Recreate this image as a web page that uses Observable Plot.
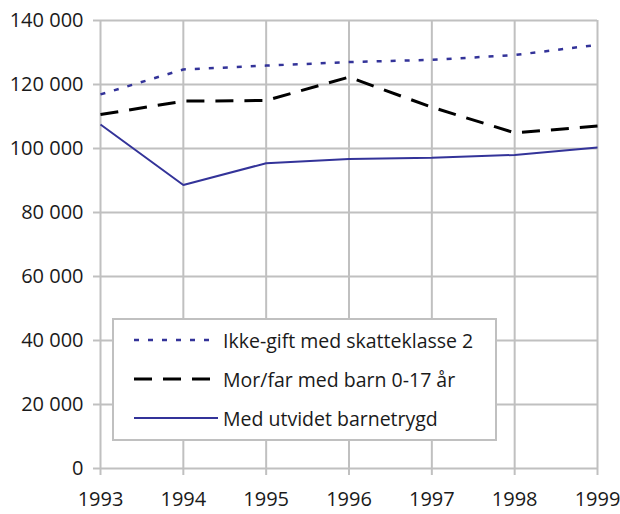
<!DOCTYPE html>
<html><head><meta charset="utf-8">
<script src="https://cdn.jsdelivr.net/npm/d3@7"></script>
<script src="https://cdn.jsdelivr.net/npm/@observablehq/plot@0.6"></script>
<style>
body{margin:0;background:#fff;}
#wrap{position:relative;width:620px;height:514px;font-family:"Open Sans",sans-serif;}
#legend{position:absolute;left:112px;top:318px;width:381px;height:119px;border:2px solid #c0c0c0;background:#fff;}
.row{position:absolute;left:0;height:30px;display:flex;align-items:center;font-size:19.5px;color:#1a1a1a;white-space:nowrap;}
.row svg{margin-left:20px;margin-right:5px;}
</style></head>
<body><div id="wrap"></div>
<script>
const years = [1993, 1994, 1995, 1996, 1997, 1998, 1999];
const seriesNames = ["Ikke-gift med skatteklasse 2", "Mor/far med barn 0-17 år", "Med utvidet barnetrygd"];
const ikkeGift = [116900, 124700, 125900, 127000, 127700, 129200, 132400];
const morFar = [110600, 114800, 115000, 122300, 112900, 104900, 107000];
const utvidet = [107500, 88600, 95400, 96700, 97100, 98000, 100300];
const yTicks = [0, 20000, 40000, 60000, 80000, 100000, 120000, 140000];

const styles = [
  {stroke: "#333399", strokeWidth: 2.5, dash: "5,9"},
  {stroke: "#000000", strokeWidth: 3, dash: "18,11"},
  {stroke: "#333399", strokeWidth: 2, dash: null}
];
const allSeries = [ikkeGift, morFar, utvidet];
const data = allSeries.map((vals, i) => years.map((y, j) => ({year: y, value: vals[j], series: seriesNames[i]})));

const fmt = v => d3.format(",")(v).replace(/,/g, " ");
const grid = "#c0c0c0";

const chart = Plot.plot({
  width: 620, height: 514,
  marginLeft: 100, marginRight: 23, marginTop: 20, marginBottom: 46,
  style: {fontFamily: "'Open Sans', sans-serif", fontSize: "20px", color: "#1a1a1a", background: "#fff"},
  x: {domain: [1993, 1999], ticks: years},
  y: {domain: [0, 140000], ticks: yTicks},
  marks: [
    Plot.gridX(years, {stroke: grid, strokeOpacity: 1, strokeWidth: 2}),
    Plot.gridY(yTicks, {stroke: grid, strokeOpacity: 1, strokeWidth: 2}),
    Plot.axisX(years, {tickFormat: d => String(d), tickSize: 7, tickPadding: 16, stroke: grid, strokeWidth: 2, label: null, fontSize: 20}),
    Plot.axisY(yTicks, {tickFormat: fmt, tickSize: 7, tickPadding: 10, stroke: grid, strokeWidth: 2, label: null, fontSize: 20}),
    ...data.map((d, i) => Plot.line(d, {x: "year", y: "value", stroke: styles[i].stroke, strokeWidth: styles[i].strokeWidth, strokeDasharray: styles[i].dash, strokeLinecap: "butt", strokeLinejoin: "miter"}))
  ]
});
const wrap = document.getElementById("wrap");
wrap.appendChild(chart);

const legend = document.createElement("div");
legend.id = "legend";
seriesNames.forEach((name, i) => {
  const row = document.createElement("div");
  row.className = "row";
  row.style.top = (5 + i * 39) + "px";
  const s = styles[i];
  row.innerHTML = `<svg width="84" height="10"><line x1="0" x2="84" y1="5" y2="5" stroke="${s.stroke}" stroke-width="${s.strokeWidth}" ${s.dash ? `stroke-dasharray="${s.dash}"` : ""}/></svg><span>${name}</span>`;
  legend.appendChild(row);
});
wrap.appendChild(legend);
</script></body></html>
